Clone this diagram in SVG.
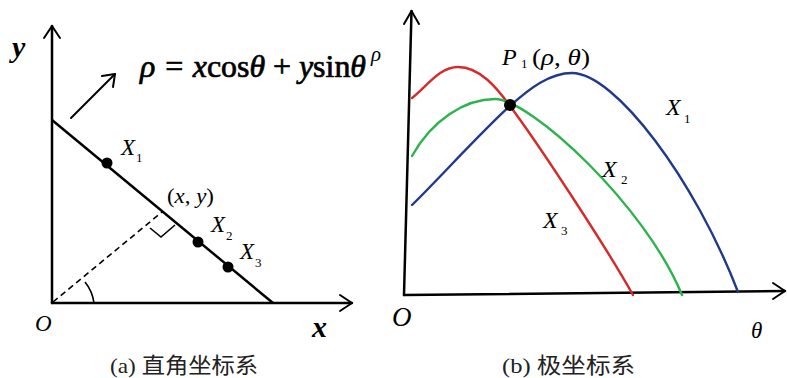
<svg xmlns="http://www.w3.org/2000/svg" width="787" height="378" viewBox="0 0 787 378">
<style>
.ax{fill:none;stroke:#000;stroke-width:2.5;stroke-linecap:round;stroke-linejoin:round}
.ah{fill:none;stroke:#000;stroke-width:2;stroke-linecap:round;stroke-linejoin:round}
.ln{fill:none;stroke:#000;stroke-width:2.5}
.thin{fill:none;stroke:#000;stroke-width:1.6}
.dash{fill:none;stroke:#000;stroke-width:1.6;stroke-dasharray:6,4}
.cv{fill:none;stroke-width:2.4;stroke-linecap:round;stroke-linejoin:round}
.t{font-family:"Liberation Serif","DejaVu Serif","Noto Sans CJK SC",serif;fill:#000}
.i{font-style:italic}
.cap{font-family:"Liberation Serif","Noto Sans CJK SC",serif;font-size:22px;fill:#222}
</style>
<rect width="787" height="378" fill="#fff"/>
<g id="panel-a">
  <g id="axes-a">
    <path class="ax" d="M52,303 V26"/>
    <path class="ah" d="M44,38 L52,26 L60,38"/>
    <path class="ax" d="M52,303 H352"/>
    <path class="ah" d="M340,295 L352,303 L340,311"/>
    <text class="t i" x="12" y="57" font-size="30" font-weight="bold">y</text>
    <text class="t i" x="35" y="331" font-size="23">O</text>
    <text class="t i" x="312" y="337" font-size="30" font-weight="bold">x</text>
  </g>
  <g id="connectors-a">
    <path class="ln" d="M52,120 L273,303"/>
    <path class="dash" d="M53,302 L162,212"/>
    <path class="thin" d="M150,228 L161,237 L175,225"/>
    <path class="thin" d="M85,282 A42,42 0 0 1 94,303"/>
    <path class="ah" d="M71,118 L115,74"/>
    <path class="ah" d="M102,76 L115,74 L113,87"/>
  </g>
  <g id="formula">
    <text class="t i" x="140" y="77" font-size="31" stroke="#000" stroke-width="0.7" textLength="226" lengthAdjust="spacingAndGlyphs">ρ = x<tspan font-style="normal">cos</tspan>θ <tspan font-style="normal">+</tspan> y<tspan font-style="normal">sin</tspan>θ</text>
  </g>
  <g id="X1a">
    <circle cx="107" cy="163" r="5.5"/>
    <text class="t i" x="121" y="155" font-size="23">X</text>
    <text class="t" x="136" y="162" font-size="13">1</text>
  </g>
  <g id="xy">
    <text class="t" x="167" y="203" font-size="21" textLength="47" lengthAdjust="spacingAndGlyphs">(<tspan font-style="italic">x</tspan>, <tspan font-style="italic">y</tspan>)</text>
  </g>
  <g id="X2a">
    <circle cx="198" cy="242" r="5.5"/>
    <text class="t i" x="211" y="232" font-size="23">X</text>
    <text class="t" x="226" y="240" font-size="13">2</text>
  </g>
  <g id="X3a">
    <circle cx="228" cy="267" r="5.5"/>
    <text class="t i" x="240" y="259" font-size="23">X</text>
    <text class="t" x="255" y="267" font-size="13">3</text>
  </g>
  <text class="cap" x="110" y="373" textLength="148" lengthAdjust="spacingAndGlyphs">(a)  直角坐标系</text>
</g>
<g id="panel-b">
  <g id="axes-b">
    <path class="ax" d="M404,295 L411.5,11"/>
    <path class="ah" d="M404,24 L411.5,11 L419,24"/>
    <path class="ax" d="M404,295 L785,291"/>
    <path class="ah" d="M773,283 L785,291 L773,299"/>
    <text class="t i" x="371" y="61" font-size="21">ρ</text>
    <text class="t i" x="392" y="326" font-size="27">O</text>
    <text class="t i" x="751" y="338" font-size="23">θ</text>
  </g>
  <g id="curves">
    <path id="X3-curve" class="cv" stroke="#d42a2a" d="M412,98 C428,85 440,67 458,67 C480,67 497,88 510,106 C537,142 605,245 633,295"/>
    <path id="X2-curve" class="cv" stroke="#2cb34c" d="M412,156 C432,120 465,99 495,99 C530,99 645,205 682,295"/>
    <path id="X1-curve" class="cv" stroke="#1f3a8a" d="M412,205 C430,188 485,128 510,106 C530,88 550,73 572,73 C615,73 695,180 738,292"/>
  </g>
  <g id="P1">
    <circle cx="510" cy="105" r="6"/>
    <text class="t i" x="502" y="65" font-size="24">P</text>
    <text class="t" x="521" y="68" font-size="13">1</text>
    <text class="t" x="532" y="65" font-size="23" textLength="58" lengthAdjust="spacingAndGlyphs">(<tspan font-style="italic">ρ</tspan>, <tspan font-style="italic">θ</tspan>)</text>
  </g>
  <g id="X1b">
    <text class="t i" x="666" y="115" font-size="24">X</text>
    <text class="t" x="684" y="123" font-size="13">1</text>
  </g>
  <g id="X2b">
    <text class="t i" x="602" y="177" font-size="24">X</text>
    <text class="t" x="621" y="184" font-size="13">2</text>
  </g>
  <g id="X3b">
    <text class="t i" x="543" y="228" font-size="24">X</text>
    <text class="t" x="561" y="235" font-size="13">3</text>
  </g>
  <text class="cap" x="502" y="373" textLength="133" lengthAdjust="spacingAndGlyphs">(b)  极坐标系</text>
</g>
</svg>
